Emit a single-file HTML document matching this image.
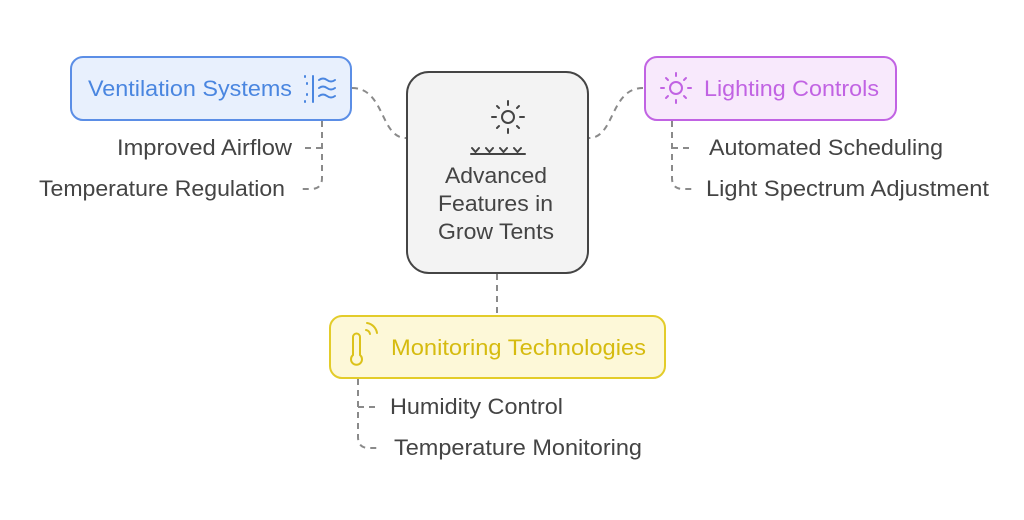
<!DOCTYPE html>
<html><head><meta charset="utf-8"><style>
html,body{margin:0;padding:0;background:#fff;}
svg{display:block;font-family:"Liberation Sans",sans-serif;}
</style></head><body>
<svg width="1024" height="520" viewBox="0 0 1024 520" xmlns="http://www.w3.org/2000/svg">
<g fill="none" stroke="#8a8a8a" stroke-width="2" stroke-dasharray="6,5">
<path d="M352 88 C385 88 380 138 406 138"/>
<path d="M322 121 L322 178 Q322 189 311 189 L300 189"/>
<path d="M322 148 L302 148"/>
<path d="M643 88 C610 88 615 138 589 138"/>
<path d="M672 121 L672 178 Q672 189 683 189 L694 189"/>
<path d="M672 148 L694 148"/>
<path d="M497 274 L497 315"/>
<path d="M358 379 L358 437 Q358 448 369 448 L380 448"/>
<path d="M358 407 L380 407"/>
</g>
<rect x="71" y="57" width="280" height="63" rx="12" fill="#e8f0fd" stroke="#5b8ee6" stroke-width="2"/>
<text x="88" y="96" font-size="22" fill="#4a86e0" textLength="204" lengthAdjust="spacingAndGlyphs">Ventilation Systems</text>
<g stroke="#4a86e0" stroke-width="2" fill="none" stroke-linecap="round">
<line x1="313" y1="76" x2="313" y2="102"/>
<line x1="305" y1="76" x2="305" y2="77"/><line x1="307" y1="83" x2="307" y2="84"/><line x1="307" y1="94" x2="307" y2="95"/><line x1="305" y1="101" x2="305" y2="102"/>
<path d="M319 80 q4 -3 8 0 t8 0"/><path d="M319 88 q4 -3 8 0 t8 0"/><path d="M319 96 q4 -3 8 0 t8 0"/>
</g>
<rect x="407" y="72" width="181" height="201" rx="22" fill="#f3f3f3" stroke="#444" stroke-width="2"/>
<g stroke="#444" stroke-width="2" fill="none" stroke-linecap="round">
<circle cx="508" cy="117" r="6"/>
<line x1="508" y1="101" x2="508" y2="105"/><line x1="508" y1="129" x2="508" y2="133"/>
<line x1="492" y1="117" x2="496" y2="117"/><line x1="520" y1="117" x2="524" y2="117"/>
<line x1="497" y1="106" x2="499" y2="108"/><line x1="517" y1="126" x2="519" y2="128"/>
<line x1="519" y1="106" x2="517" y2="108"/><line x1="497" y1="128" x2="499" y2="126"/>
<line x1="471" y1="154" x2="525" y2="154"/>
<path d="M472 148 l3.5 4 l3.5 -4 M486 148 l3.5 4 l3.5 -4 M500 148 l3.5 4 l3.5 -4 M514 148 l3.5 4 l3.5 -4"/>
</g>
<g font-size="22" fill="#444">
<text x="445" y="183" textLength="102" lengthAdjust="spacingAndGlyphs">Advanced</text>
<text x="438" y="211" textLength="115" lengthAdjust="spacingAndGlyphs">Features in</text>
<text x="438" y="239" textLength="116" lengthAdjust="spacingAndGlyphs">Grow Tents</text>
</g>
<rect x="645" y="57" width="251" height="63" rx="12" fill="#f8e9fc" stroke="#c163e3" stroke-width="2"/>
<g stroke="#c163e3" stroke-width="2" fill="none" stroke-linecap="round">
<circle cx="676" cy="88" r="6"/>
<line x1="676" y1="73" x2="676" y2="76"/><line x1="676" y1="100" x2="676" y2="103"/>
<line x1="661" y1="88" x2="664" y2="88"/><line x1="688" y1="88" x2="691" y2="88"/>
<line x1="666" y1="78" x2="668" y2="80"/><line x1="684" y1="96" x2="686" y2="98"/>
<line x1="686" y1="78" x2="684" y2="80"/><line x1="666" y1="98" x2="668" y2="96"/>
</g>
<text x="704" y="96" font-size="22" fill="#c163e3" textLength="175" lengthAdjust="spacingAndGlyphs">Lighting Controls</text>
<rect x="330" y="316" width="335" height="62" rx="12" fill="#fdf8d8" stroke="#e3cc2a" stroke-width="2"/>
<g stroke="#dcc21a" stroke-width="2" fill="none" stroke-linecap="round">
<path d="M353 355 L353 337 a3.5 3.5 0 0 1 7 0 L360 355 a5.5 5.5 0 1 1 -7 0 Z"/>
<path d="M366 330 a5 5 0 0 1 4 4"/><path d="M367 323 a12 12 0 0 1 10 10"/>
</g>
<text x="391" y="355" font-size="22" fill="#d6bb0f" textLength="255" lengthAdjust="spacingAndGlyphs">Monitoring Technologies</text>
<g font-size="22" fill="#444">
<text x="117" y="155" textLength="175" lengthAdjust="spacingAndGlyphs">Improved Airflow</text>
<text x="39" y="196" textLength="246" lengthAdjust="spacingAndGlyphs">Temperature Regulation</text>
<text x="709" y="155" textLength="234" lengthAdjust="spacingAndGlyphs">Automated Scheduling</text>
<text x="706" y="196" textLength="283" lengthAdjust="spacingAndGlyphs">Light Spectrum Adjustment</text>
<text x="390" y="414" textLength="173" lengthAdjust="spacingAndGlyphs">Humidity Control</text>
<text x="394" y="455" textLength="248" lengthAdjust="spacingAndGlyphs">Temperature Monitoring</text>
</g>
</svg>
</body></html>
